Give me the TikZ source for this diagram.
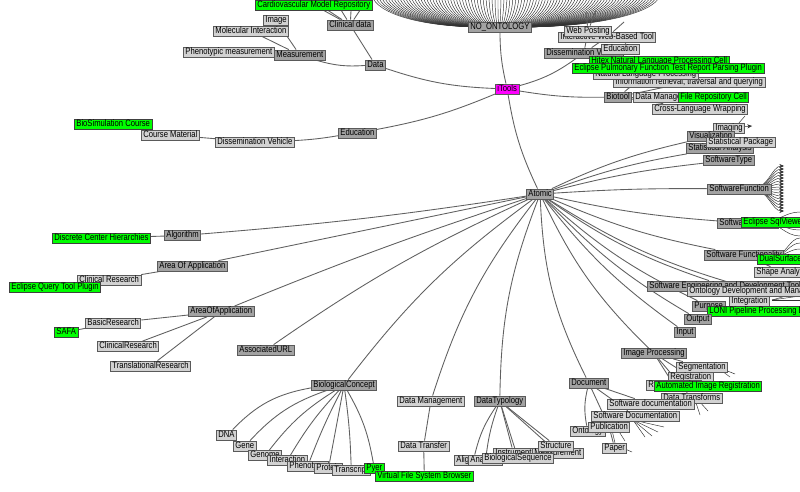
\documentclass[tikz,border=0pt]{standalone}
\usepackage{fontspec}
\setmainfont{Liberation Sans}[FakeStretch=0.82]
\usetikzlibrary{arrows.meta}
\pgfdeclarelayer{bg}
\pgfsetlayers{bg,main}
\definecolor{dg}{HTML}{A2A2A2}
\definecolor{lg}{HTML}{D2D2D2}
\definecolor{bd}{HTML}{5A5A5A}
\definecolor{gn}{HTML}{00FF00}
\definecolor{mg}{HTML}{FF00FF}
\definecolor{ec}{HTML}{606060}
\begin{document}
\begin{tikzpicture}[x=0.75pt,y=-0.75pt,
 nd/.style={draw=bd, fill=dg, line width=0.6pt, font=\fontsize{7}{7}\selectfont, inner xsep=1.5pt, inner ysep=0.5pt, text height=5pt, text depth=1.5pt, anchor=west},
 lt/.style={nd, fill=lg},
 gr/.style={nd, fill=gn, draw=black!75},
 ed/.style={draw=ec, line width=0.65pt},
 fan/.style={draw=black!80, line width=0.35pt},
 tip/.style={-{Stealth[length=3.5pt,width=3pt]}}
]
\useasboundingbox (0,0) rectangle (800,492);
\clip (0,0) rectangle (800,492);

% ---------- nodes ----------
\node[nd] (NO) at (468,27) {NO\_ONTOLOGY};
\node[nd, fill=mg] (iTools) at (495,89) {iTools};
\node[nd] (Atomic) at (526,194) {Atomic};

\node[nd] (Data) at (365,65) {Data};
\node[lt] (Pheno) at (183,52) {Phenotypic measurement};
\node[nd] (Meas) at (274,55) {Measurement};
\node[nd] (ClinD) at (327,25) {Clinical data};
\node[lt] (Image) at (263,20) {Image};
\node[lt] (MolInt) at (213,31) {Molecular Interaction};
\node[gr] (Cardio) at (255,5) {Cardiovascular Model Repository};
\node[nd] (Edu) at (338,133) {Education};
\node[lt] (DissV) at (215,142) {Dissemination Vehicle};
\node[lt] (CourseM) at (141,135) {Course Material};
\node[gr] (BioSim) at (74,124) {BioSimulation Course};

\node[lt] (IWBT) at (558,37) {Interactive Web-Based Tool};
\node[lt] (WebP) at (564,31) {Web Posting};
\node[nd] (DissV2) at (544,53) {Dissemination Vehicle};
\node[lt] (Edu2) at (601,49) {Education};
\node[lt] (IR) at (613,82) {Information retrieval, traversal and querying};
\node[lt] (NLP) at (593,74) {Natural Language Processing};
\node[gr] (Hitex) at (589,61) {Hitex Natural Language Processing Cell};
\node[gr] (EPF) at (572,68) {Eclipse Pulmonary Function Test Report Parsing Plugin};
\node[nd] (Biotool) at (604,97) {Biotool};
\node[lt] (DataM2) at (633,97) {Data Management};
\node[gr] (FRC) at (678,97) {File Repository Cell};
\node[lt] (CLW) at (652,109) {Cross-Language Wrapping};

\node[lt] (Imaging) at (713,128) {Imaging};
\node[nd] (Vis) at (687,136.5) {Visualization};
\node[nd] (StatAn) at (686,148.5) {Statistical Analysis};
\node[lt] (StatPkg) at (706,142.5) {Statistical Package};
\node[nd] (SWType) at (703,160.5) {SoftwareType};
\node[nd] (SWFunc) at (707,189) {SoftwareFunction};
\node[nd] (SWProd) at (717,223) {SoftwareProduct};
\node[gr] (SqlV) at (741,222) {Eclipse SqlViewer};
\node[nd] (SWFunc2) at (704,255) {Software Functionality};
\node[gr] (Dual) at (757,259) {DualSurface};
\node[lt] (Shape) at (754,272) {Shape Analysis};
\node[nd] (SEDT) at (647,286) {Software Engineering and Development Tool};
\node[lt] (ODM) at (687,291) {Ontology Development and Management};
\node[lt] (Integ) at (729,301) {Integration};
\node[nd] (Purpose) at (692,306) {Purpose};
\node[gr] (LONI) at (707,311) {LONI Pipeline Processing Environment};
\node[nd] (Output) at (684,319) {Output};
\node[nd] (Input) at (674,332) {Input};

\node[nd] (ImgProc) at (621,353.5) {Image Processing};
\node[lt] (Segm) at (676,367) {Segmentation};
\node[lt] (Regis) at (668,377) {Registration};
\node[lt] (Recon) at (646,385) {Reconstruction};
\node[gr] (AIR) at (654,386) {Automated Image Registration};
\node[lt] (DataTr) at (661,398) {Data Transforms};
\node[nd] (Document) at (569,383) {Document};
\node[lt] (SWdoc) at (607,404) {Software documentation};
\node[lt] (SWDoc2) at (591,416) {Software Documentation};
\node[lt] (Ontology) at (570,431) {Ontology};
\node[lt] (Public) at (588,427) {Publication};
\node[lt] (Paper) at (602,448) {Paper};

\node[gr] (DCH) at (52,238) {Discrete Center Hierarchies};
\node[nd] (Algo) at (164,235.5) {Algorithm};
\node[nd] (AOA) at (157,266) {Area Of Application};
\node[lt] (ClinRes) at (77,280) {Clinical Research};
\node[gr] (EQTP) at (9,287) {Eclipse Query Tool Plugin};
\node[nd] (AOA2) at (188,311.5) {AreaOfApplication};
\node[lt] (BasicRes) at (85,323) {BasicResearch};
\node[gr] (SAFA) at (54,332) {SAFA};
\node[lt] (ClinRes2) at (97,346.5) {ClinicalResearch};
\node[lt] (TransRes) at (110,366) {TranslationalResearch};
\node[nd] (AssocURL) at (237,350) {AssociatedURL};
\node[nd] (BioCon) at (311,385) {BiologicalConcept};
\node[lt] (DNA) at (216,435) {DNA};
\node[lt] (Gene) at (233,446) {Gene};
\node[lt] (Genome) at (248,455.5) {Genome};
\node[lt] (Interaction) at (267,460.5) {Interaction};
\node[lt] (Phenotype) at (287,466) {Phenotype};
\node[lt] (Protein) at (314,468) {Protein};
\node[lt] (Transcript) at (332,470) {Transcript};
\node[gr] (Pyer) at (364,468.5) {Pyer};
\node[lt] (DataMan) at (397,401) {Data Management};
\node[lt] (DataTrans) at (398,446) {Data Transfer};
\node[gr] (VFSB) at (375,476) {Virtual File System Browser};
\node[nd] (DataTyp) at (474,401) {DataTypology};
\node[lt] (Align) at (454,460) {Alignment};
\node[lt] (Anatomy) at (468,460.5) {Anatomy};
\node[lt] (Instrument) at (493,453) {Instrument};
\node[lt] (Meas2) at (532,453) {Measurement};
\node[lt] (BioSeq) at (482,458.5) {BiologicalSequence};
\node[lt] (Structure) at (538,446) {Structure};

% ---------- connectors ----------
\begin{pgfonlayer}{bg}
\fill[white] (0,0) rectangle (800,492);
\clip (0,0) rectangle (800,492);
\foreach \i in {0,...,96} {
  \pgfmathsetmacro\xe{372+\i*3}
  \draw[fan] (NO.center) .. controls ({497+0.72*(\xe-497)},29) and (\xe,8) .. (\xe,-6);
}
\draw[ed] (NO) to[bend right=6] (iTools);
\draw[ed] (iTools) to[bend right=8] (Atomic);
\draw[ed] (iTools) to[bend left=8] (Data);
\draw[ed] (iTools) to[bend left=6] (Edu);
\draw[ed] (iTools) to[bend right=5] (Biotool);
\draw[ed] (iTools) to[bend right=10] (DissV2);
\draw[ed] (Data) to[bend left=10] (Meas);
\draw[ed] (Data) -- (ClinD);
\draw[ed] (Meas) -- (MolInt);
\draw[ed] (Meas) -- (Image);
\draw[ed] (Meas) -- (Pheno);
\draw[ed] (ClinD) -- (Cardio);
\foreach \x in {300,330,352,372} \draw[ed] (ClinD) -- (\x,-8);
\draw[ed] (Edu) to[bend left=3] (DissV);
\draw[ed] (DissV) -- (CourseM);
\draw[ed] (CourseM) -- (BioSim);

\draw[ed] (DissV2) -- (WebP);
\draw[ed] (DissV2) -- (IWBT);
\draw[ed] (DissV2) -- (Edu2);
\draw[ed] (WebP) -- (586,12);
\draw[ed] (WebP) -- (596,10);
\draw[ed] (IWBT) -- (624,22);
\draw[ed] (Edu2) -- (632,36);
\draw[ed] (Biotool) -- (IR);
\draw[ed] (Biotool) -- (NLP);
\draw[ed] (Biotool) -- (DataM2);
\draw[ed] (Biotool) -- (CLW);
\draw[ed] (NLP) -- (Hitex);
\draw[ed] (IR) -- (EPF);
\draw[ed] (DataM2) -- (FRC);

\draw[ed] (Atomic) to[bend left=6] (Vis);
\draw[ed] (Atomic) to[bend left=5] (StatAn);
\draw[ed] (Atomic) to[bend left=4] (SWType);
\draw[ed] (Atomic) to[bend left=2] (SWFunc);
\draw[ed] (Atomic) to[bend right=4] (SWProd);
\draw[ed] (Atomic) to[bend right=6] (SWFunc2);
\draw[ed] (Atomic) to[bend right=8] (SEDT);
\draw[ed] (Atomic) to[bend right=8] (ODM);
\draw[ed] (Atomic) to[bend right=8] (Purpose);
\draw[ed] (Atomic) to[bend right=8] (Output);
\draw[ed] (Atomic) to[bend right=8] (Input);
\draw[ed] (Atomic) to[bend right=10] (ImgProc);
\draw[ed] (Atomic) to[bend right=12] (Document);
\draw[ed] (Atomic) to[bend right=10] (DataTyp);
\draw[ed] (Atomic) to[bend right=10] (DataMan);
\draw[ed] (Atomic) to[bend right=8] (BioCon);
\draw[ed] (Atomic) to[bend right=5] (AssocURL);
\draw[ed] (Atomic) to[bend right=2] (AOA2);
\draw[ed] (Atomic) -- (AOA);
\draw[ed] (Atomic) to[bend left=2] (Algo);

\draw[ed] (Vis) -- (Imaging);
\draw[ed] (StatAn) -- (StatPkg);
\draw[ed] (SWProd) -- (SqlV);
\draw[ed] (SWFunc2) -- (Dual);
\draw[ed] (SWFunc2) -- (Shape);
\draw[ed] (SEDT) -- (Integ);
\draw[ed] (Purpose) -- (LONI);
\draw[ed] (ImgProc) -- (Segm);
\draw[ed] (ImgProc) -- (Regis);
\draw[ed] (ImgProc) -- (Recon);
\draw[ed] (ImgProc) -- (DataTr);
\draw[ed] (Regis) -- (AIR);
\draw[ed] (Document) -- (SWdoc);
\draw[ed] (Document) -- (SWDoc2);
\draw[ed] (Document) to[bend right=12] (Ontology);
\draw[ed] (Document) -- (Public);
\draw[ed] (Public) -- (Paper);

\draw[ed] (Algo) -- (DCH);
\draw[ed] (AOA) -- (ClinRes);
\draw[ed] (ClinRes) -- (EQTP);
\draw[ed] (AOA2) -- (BasicRes);
\draw[ed] (AOA2) -- (ClinRes2);
\draw[ed] (AOA2) -- (TransRes);
\draw[ed] (BasicRes) -- (SAFA);

\draw[ed] (BioCon) to[bend right=18] (DNA);
\draw[ed] (BioCon) to[bend right=14] (Gene);
\draw[ed] (BioCon) to[bend right=10] (Genome);
\draw[ed] (BioCon) to[bend right=6] (Interaction);
\draw[ed] (BioCon) to[bend right=3] (Phenotype);
\draw[ed] (BioCon) -- (Protein);
\draw[ed] (BioCon) to[bend left=3] (Transcript);
\draw[ed] (BioCon) to[bend left=10] (Pyer);
\draw[ed] (DataMan) -- (DataTrans);
\draw[ed] (DataTrans) -- (VFSB);
\draw[ed] (DataTyp) to[bend right=10] (Align);
\draw[ed] (DataTyp) to[bend right=6] (Anatomy);
\draw[ed] (DataTyp) -- (BioSeq);
\draw[ed] (DataTyp) -- (Instrument);
\draw[ed] (DataTyp) -- (Meas2);
\draw[ed] (DataTyp) -- (Structure);

% fans towards off-picture children
\foreach \yy in {166,169,...,211} \draw[fan,tip] (752,189) .. controls (768,189) and (772,\yy) .. (784,\yy);
\foreach \yy in {212,218,224,230,236} \draw[fan] (765,222) .. controls (778,222) and (785,\yy) .. (800,\yy);
\foreach \yy in {238,243,249,264} \draw[fan] (775,256) .. controls (785,256) and (790,\yy) .. (800,\yy);
\foreach \yy in {292,296,300} \draw[fan] (772,300) -- (800,\yy);
\draw[fan,tip] (740,127) -- (752,126);
\draw[fan] (738,124) -- (745,116);
\draw[fan] (725,370) -- (735,374);
\draw[fan] (722,371) -- (730,377);
\draw[fan] (695,400) -- (700,415);
\draw[fan] (698,400) -- (708,411);
\foreach \xx/\yy in {645/437,652/436,658/432,664/427} \draw[fan] (633,420) -- (\xx,\yy);
\draw[fan] (612,430) -- (615,443);
\draw[fan] (618,430) -- (625,441);
\draw[fan] (625,449) -- (632,452);
\end{pgfonlayer}
\end{tikzpicture}
\end{document}
